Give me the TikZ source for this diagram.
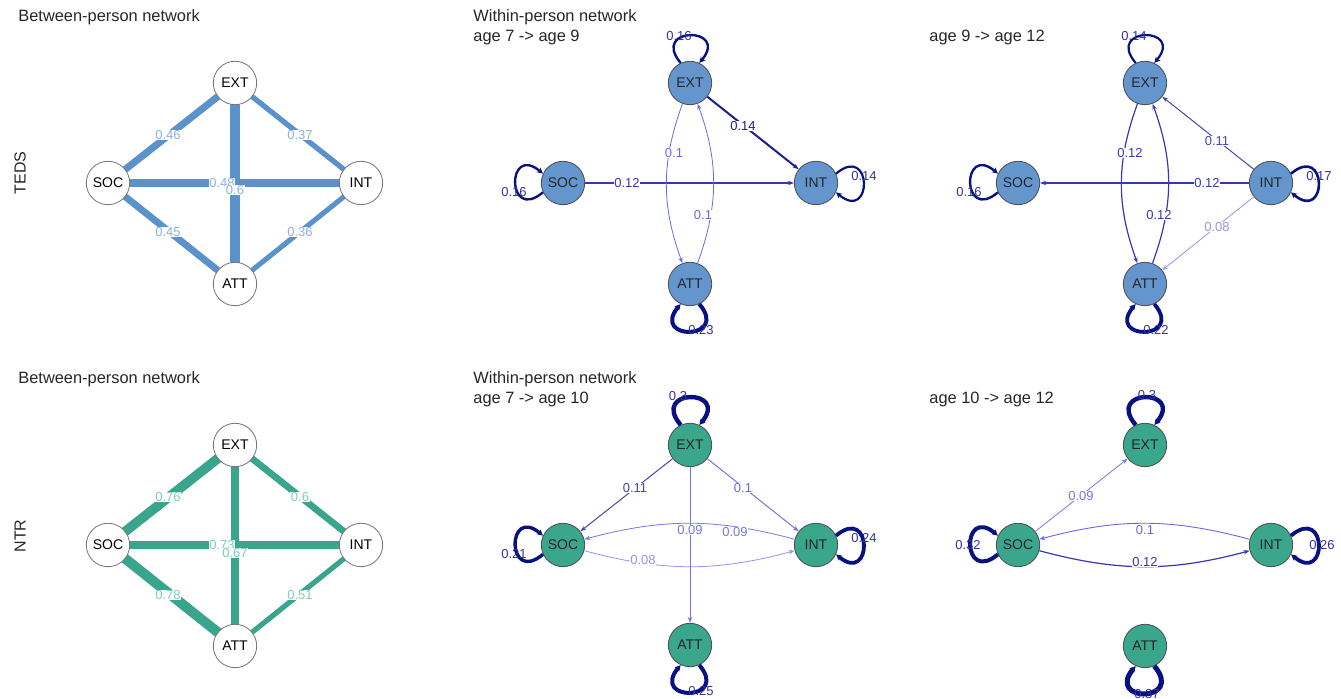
\documentclass[tikz,border=0pt]{standalone}
\usepackage{fontspec}
\setmainfont{Liberation Sans}
\usetikzlibrary{arrows.meta}
\pgfdeclarelayer{bg}
\pgfsetlayers{bg,main}

% palette
\definecolor{bblue}{RGB}{92,146,204}
\definecolor{bbluelab}{RGB}{140,178,222}
\definecolor{bteal}{RGB}{56,165,140}
\definecolor{btealab}{RGB}{125,205,185}
\definecolor{wblue}{RGB}{100,150,205}
\definecolor{wteal}{RGB}{58,166,140}
\definecolor{navy}{RGB}{8,16,130}
\definecolor{navylab}{RGB}{50,50,155}
\definecolor{cfourteen}{RGB}{30,30,140}
\definecolor{ctwelve}{RGB}{55,55,180}
\definecolor{celeven}{RGB}{70,70,175}
\definecolor{cten}{RGB}{105,105,225}
\definecolor{cnine}{RGB}{118,118,228}
\definecolor{ceight}{RGB}{148,148,236}

% self-loop on node #1, pointing along angle #2, line width #3
\newcommand{\selfloop}[3]{%
  \pgfmathtruncatemacro\loopa{mod(#2+25+360,360)}%
  \pgfmathtruncatemacro\loopb{mod(#2-25+360,360)}%
  \draw[self,line width=#3] (#1.\loopa) .. controls +(#2+40:48) and +(#2-40:48) .. (#1.\loopb);}

\begin{document}
\begin{tikzpicture}[x=0.5pt,y=0.5pt,
  title/.style={anchor=west,inner sep=0,font=\fontsize{8.2}{10}\selectfont,text=black!85},
  rowlab/.style={rotate=90,inner sep=0,font=\fontsize{8}{10}\selectfont,text=black!85},
  bnode/.style={circle,draw=black!55,fill=white,line width=0.4pt,minimum size=21.7pt,inner sep=0,font=\fontsize{7}{8}\selectfont},
  wnode/.style={circle,draw=black!70,line width=0.4pt,minimum size=21.7pt,inner sep=0,font=\fontsize{7}{8}\selectfont,text=black!85},
  tedsnode/.style={wnode,fill=wblue},
  ntrnode/.style={wnode,fill=wteal},
  elab/.style={font=\fontsize{6.5}{7}\selectfont,inner sep=0.3pt,fill=white},
  looplab/.style={font=\fontsize{6.5}{7}\selectfont,inner sep=0,text=navylab},
  arr/.style={-{Stealth[length=3pt,width=2.2pt]}},
  self/.style={draw=navy,-{Stealth[length=3pt,width=3pt]}},
]
\useasboundingbox (0,0) rectangle (1341,-699);

% ---------------- titles ----------------
\node[title] (t1) at (18,-17) {Between-person network};
\node[title] (t2) at (473,-17) {Within-person network};
\node[title] (t3) at (473,-37) {age 7 -> age 9};
\node[title] (t4) at (929,-37) {age 9 -> age 12};
\node[title] (t5) at (18,-379) {Between-person network};
\node[title] (t6) at (473,-379) {Within-person network};
\node[title] (t7) at (473,-399) {age 7 -> age 10};
\node[title] (t8) at (929,-399) {age 10 -> age 12};
\node[rowlab] (r1) at (20,-173) {TEDS};
\node[rowlab] (r2) at (20,-536) {NTR};

% ---------------- TEDS between-person ----------------
\node[bnode] (bE1) at (235,-83) {EXT};
\node[bnode] (bS1) at (108,-183) {SOC};
\node[bnode] (bI1) at (361,-183) {INT};
\node[bnode] (bA1) at (235,-284) {ATT};
\begin{pgfonlayer}{bg}
  \draw[bblue,line width=5pt]    (bE1.center) -- (bA1.center);
  \draw[bblue,line width=3.75pt] (bS1.center) -- (bI1.center);
  \draw[bblue,line width=3.55pt] (bS1.center) -- (bE1.center);
  \draw[bblue,line width=3.45pt] (bS1.center) -- (bA1.center);
  \draw[bblue,line width=2.65pt] (bE1.center) -- (bI1.center);
  \draw[bblue,line width=2.55pt] (bI1.center) -- (bA1.center);
\end{pgfonlayer}
\begin{scope}[every node/.style={elab,text=bbluelab}]
  \node (l1a) at (168,-135) {0.46};
  \node (l1b) at (300,-135) {0.37};
  \node (l1c) at (222,-183) {0.48};
  \node (l1d) at (235,-190) {0.6};
  \node (l1e) at (168,-232) {0.45};
  \node (l1f) at (300,-232) {0.36};
\end{scope}

% ---------------- NTR between-person ----------------
\node[bnode] (bE2) at (235,-445) {EXT};
\node[bnode] (bS2) at (108,-545) {SOC};
\node[bnode] (bI2) at (361,-545) {INT};
\node[bnode] (bA2) at (235,-646) {ATT};
\begin{pgfonlayer}{bg}
  \draw[bteal,line width=5pt]    (bS2.center) -- (bA2.center);
  \draw[bteal,line width=4.8pt]  (bS2.center) -- (bE2.center);
  \draw[bteal,line width=4.4pt]  (bS2.center) -- (bI2.center);
  \draw[bteal,line width=3.9pt]  (bE2.center) -- (bA2.center);
  \draw[bteal,line width=3.35pt] (bE2.center) -- (bI2.center);
  \draw[bteal,line width=2.6pt]  (bI2.center) -- (bA2.center);
\end{pgfonlayer}
\begin{scope}[every node/.style={elab,text=btealab}]
  \node (l2a) at (168,-497) {0.76};
  \node (l2b) at (300,-497) {0.6};
  \node (l2c) at (222,-545) {0.73};
  \node (l2d) at (235,-553) {0.67};
  \node (l2e) at (168,-595) {0.78};
  \node (l2f) at (300,-595) {0.51};
\end{scope}

% ---------------- TEDS within, age 7 -> 9 ----------------
\node[tedsnode] (E1) at (690,-83) {EXT};
\node[tedsnode] (S1) at (563,-183) {SOC};
\node[tedsnode] (I1) at (816,-183) {INT};
\node[tedsnode] (A1) at (690,-284) {ATT};
\draw[arr,cfourteen,line width=1pt] (E1) -- (I1);
\draw[arr,ctwelve,line width=0.6pt] (S1) -- (I1);
\draw[arr,cten,line width=0.4pt] (E1) to[bend right=20] (A1);
\draw[arr,cten,line width=0.4pt] (A1) to[bend right=20] (E1);
\node[elab,text=cfourteen] (m1a) at (743,-126) {0.14};
\node[elab,text=ctwelve]   (m1b) at (627,-183) {0.12};
\node[elab,text=cten]      (m1c) at (674,-153) {0.1};
\node[elab,text=cten]      (m1d) at (703,-215) {0.1};
\selfloop{E1}{90}{1.2pt}
\selfloop{S1}{180}{1.2pt}
\selfloop{I1}{0}{1.1pt}
\selfloop{A1}{270}{2pt}
\node[looplab] (o1a) at (679,-36) {0.16};
\node[looplab] (o1b) at (514,-192) {0.16};
\node[looplab] (o1c) at (864,-176) {0.14};
\node[looplab] (o1d) at (701,-330) {0.23};

% ---------------- TEDS within, age 9 -> 12 ----------------
\node[tedsnode] (E2) at (1145,-83) {EXT};
\node[tedsnode] (S2) at (1018,-183) {SOC};
\node[tedsnode] (I2) at (1271,-183) {INT};
\node[tedsnode] (A2) at (1145,-284) {ATT};
\draw[arr,ctwelve,line width=0.6pt] (E2) to[bend right=20] (A2);
\draw[arr,ctwelve,line width=0.6pt] (A2) to[bend right=20] (E2);
\draw[arr,celeven,line width=0.5pt] (I2) -- (E2);
\draw[arr,ctwelve,line width=0.6pt] (I2) -- (S2);
\draw[arr,ceight,line width=0.4pt] (I2) -- (A2);
\node[elab,text=ctwelve] (m2a) at (1130,-153) {0.12};
\node[elab,text=ctwelve] (m2b) at (1159,-215) {0.12};
\node[elab,text=celeven] (m2c) at (1217,-141) {0.11};
\node[elab,text=ctwelve] (m2d) at (1207,-183) {0.12};
\node[elab,text=ceight]  (m2e) at (1217,-227) {0.08};
\selfloop{E2}{90}{1.1pt}
\selfloop{S2}{180}{1.2pt}
\selfloop{I2}{0}{1.3pt}
\selfloop{A2}{270}{1.9pt}
\node[looplab] (o2a) at (1134,-36) {0.14};
\node[looplab] (o2b) at (969,-192) {0.16};
\node[looplab] (o2c) at (1319,-176) {0.17};
\node[looplab] (o2d) at (1156,-330) {0.22};

% ---------------- NTR within, age 7 -> 10 ----------------
\node[ntrnode] (E3) at (690,-445) {EXT};
\node[ntrnode] (S3) at (563,-545) {SOC};
\node[ntrnode] (I3) at (816,-545) {INT};
\node[ntrnode] (A3) at (690,-645) {ATT};
\draw[arr,celeven,line width=0.5pt] (E3) -- (S3);
\draw[arr,cten,line width=0.45pt] (E3) -- (I3);
\draw[arr,cnine,line width=0.4pt] (E3) -- (A3);
\draw[arr,cnine,line width=0.4pt] (I3) to[bend right=15] (S3);
\draw[arr,ceight,line width=0.4pt] (S3) to[bend right=15] (I3);
\node[elab,text=celeven] (m3a) at (635,-488) {0.11};
\node[elab,text=cten]    (m3b) at (743,-488) {0.1};
\node[elab,text=cnine]   (m3c) at (690,-530) {0.09};
\node[elab,text=cnine]   (m3d) at (735,-532) {0.09};
\node[elab,text=ceight]  (m3e) at (643,-560) {0.08};
\selfloop{E3}{90}{2.2pt}
\selfloop{S3}{180}{1.7pt}
\selfloop{I3}{0}{1.9pt}
\selfloop{A3}{270}{2pt}
\node[looplab] (o3a) at (678,-396) {0.3};
\node[looplab] (o3b) at (514,-554) {0.21};
\node[looplab] (o3c) at (864,-538) {0.24};
\node[looplab] (o3d) at (701,-691) {0.25};

% ---------------- NTR within, age 10 -> 12 ----------------
\node[ntrnode] (E4) at (1145,-445) {EXT};
\node[ntrnode] (S4) at (1018,-545) {SOC};
\node[ntrnode] (I4) at (1271,-545) {INT};
\node[ntrnode] (A4) at (1145,-646) {ATT};
\draw[arr,cnine,line width=0.4pt] (S4) -- (E4);
\draw[arr,cten,line width=0.45pt] (I4) to[bend right=15] (S4);
\draw[arr,ctwelve,line width=0.6pt] (S4) to[bend right=15] (I4);
\node[elab,text=cnine]   (m4a) at (1081,-496) {0.09};
\node[elab,text=cten]    (m4b) at (1145,-530) {0.1};
\node[elab,text=ctwelve] (m4c) at (1145,-562) {0.12};
\selfloop{E4}{90}{2.2pt}
\selfloop{S4}{180}{2pt}
\selfloop{I4}{0}{1.9pt}
\selfloop{A4}{270}{2.5pt}
\node[looplab] (o4a) at (1147,-395) {0.3};
\node[looplab] (o4b) at (968,-545) {0.32};
\node[looplab] (o4c) at (1322,-545) {0.26};
\node[looplab] (o4d) at (1147,-694) {0.37};
\end{tikzpicture}
\end{document}
